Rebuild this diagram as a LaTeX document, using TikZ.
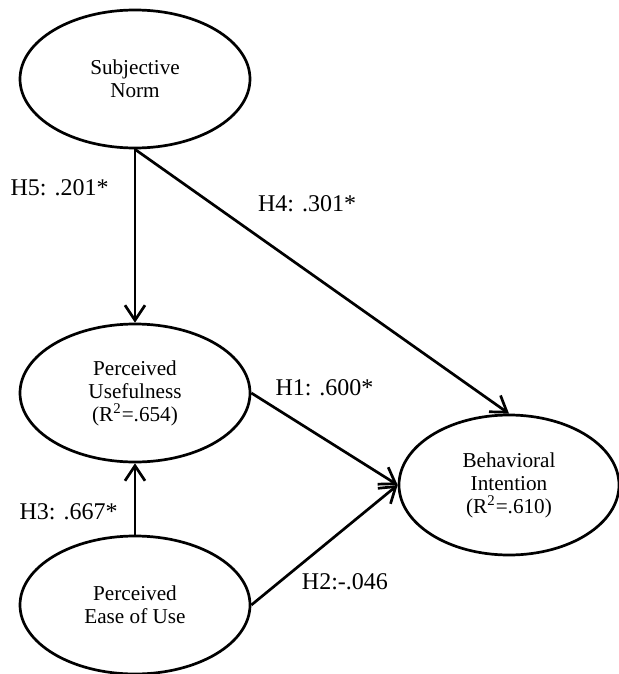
\documentclass[tikz,border=0pt]{standalone}
\usepackage{fontspec}
\setmainfont{Liberation Serif}
\usetikzlibrary{shapes.geometric,positioning,arrows.meta}

\begin{document}
\begin{tikzpicture}[auto, line width=1.35pt, >={Straight Barb[length=7.5pt,width=10pt]},
                    main node/.style={ellipse,draw,on grid,inner sep=0pt,minimum width=115pt,minimum height=69pt,
                                      align=center,font=\fontsize{10.6}{11.5}\selectfont}]

		  \useasboundingbox (0,0) rectangle (309.5pt,-337pt);

		  \node[main node] (SN) at (67.5pt,-39.5pt) {Subjective\\Norm};
		  \node[main node] (PU) [below=157pt of SN] {Perceived\\Usefulness\\(R\textsuperscript{2}=.654)};
		  \node[main node] (PEOU) [below=106pt of PU] {Perceived\\Ease of Use};
		  \node[main node,minimum width=110pt,minimum height=70pt] (BI) [below right=46pt and 187pt of PU] {Behavioral\\Intention\\(R\textsuperscript{2}=.610)};

		  \path[->,every node/.style={font=\fontsize{12}{14}\selectfont}]
		    (SN.south) edge node[pos=0.22,left=9.2pt] {H5: .201*} (PU)
		               edge node[pos=0.46,above=25.5pt] {H4: .301*} (BI.north)
		    (PU.east) edge node[pos=0.5,above=17.5pt] {H1: .600*} (BI.west)
		    (PEOU.east) edge node[pos=0.64,below=18.5pt] {H2:-.046} (BI.west)
		    (PEOU) edge node[pos=0.32,left=4.7pt] {H3: .667*} (PU)
		    ;
	\end{tikzpicture}
\end{document}
